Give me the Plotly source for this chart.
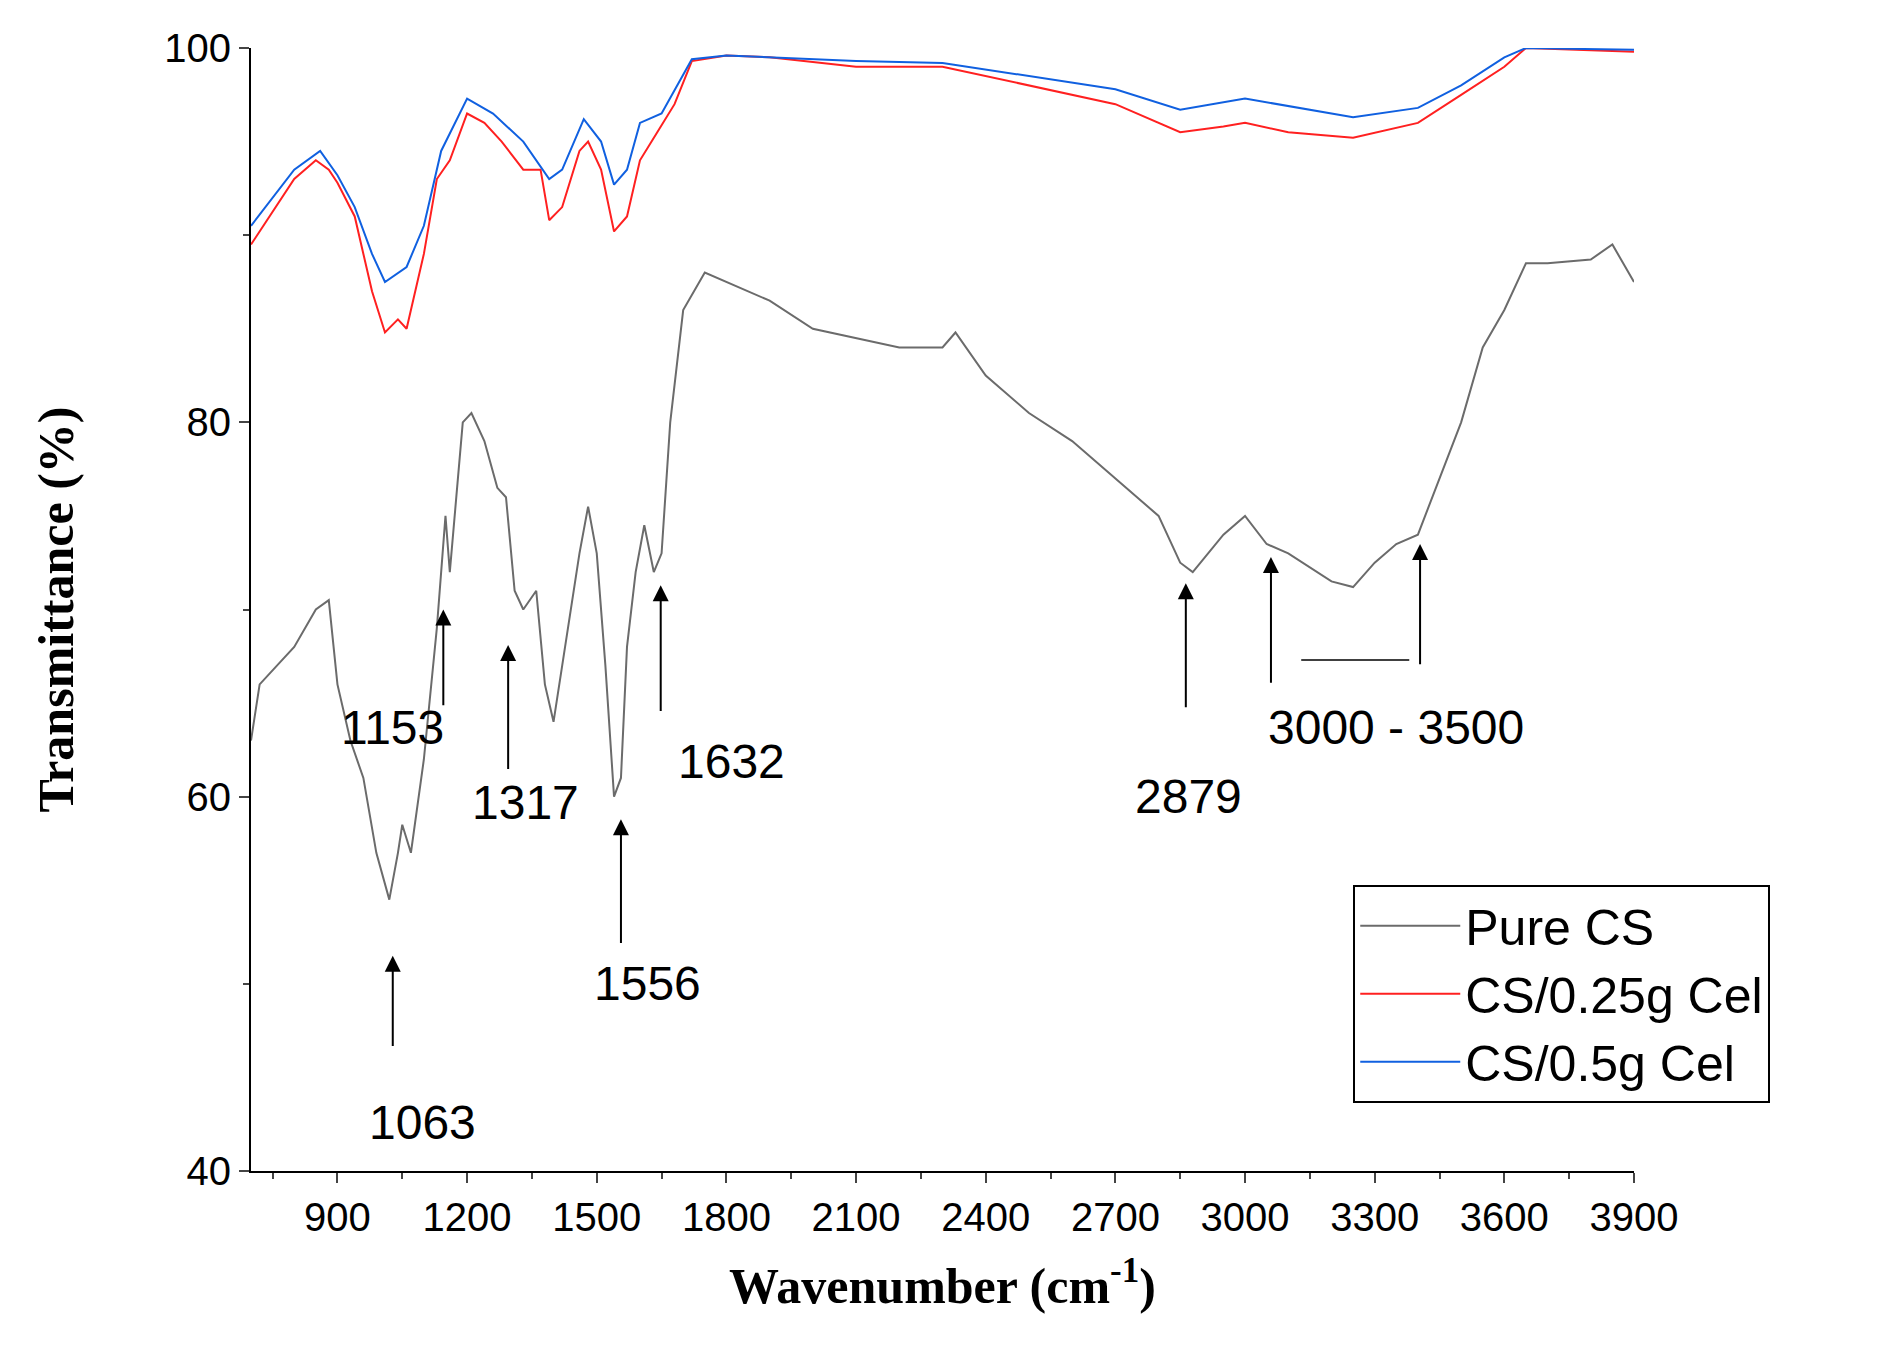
import plotly.graph_objects as go

# Pure CS
cs_x = [700, 720, 760, 800, 850, 880, 900, 930, 960, 990, 1020, 1040, 1050, 1070, 1100, 1130, 1150, 1160,
        1175, 1190, 1210, 1240, 1270, 1290, 1310, 1330, 1360, 1380, 1400, 1420, 1440, 1460, 1480, 1500,
        1520, 1540, 1556, 1570, 1590, 1610, 1632, 1650, 1670, 1700, 1750, 1800, 1900, 2000, 2100, 2200,
        2300, 2330, 2400, 2500, 2600, 2700, 2800, 2850, 2879, 2950, 3000, 3050, 3100, 3200, 3250, 3300,
        3350, 3400, 3450, 3500, 3550, 3600, 3650, 3700, 3800, 3850, 3900]
cs_y = [63, 66, 67, 68, 70, 70.5, 66, 63, 61, 57, 54.5, 57, 58.5, 57, 62, 69, 75, 72,
        76, 80, 80.5, 79, 76.5, 76, 71, 70, 71, 66, 64, 67, 70, 73, 75.5, 73,
        67, 60, 61, 68, 72, 74.5, 72, 73, 80, 86, 88, 87.5, 86.5, 85, 84.5, 84,
        84, 84.8, 82.5, 80.5, 79, 77, 75, 72.5, 72, 74, 75, 73.5, 73, 71.5, 71.2, 72.5,
        73.5, 74, 77, 80, 84, 86, 88.5, 88.5, 88.7, 89.5, 87.5]

# CS/0.25g Cel
red_x = [700, 800, 850, 880, 900, 940, 980, 1010, 1040, 1060, 1100, 1130, 1160, 1200, 1240, 1280, 1330,
         1370, 1390, 1420, 1460, 1480, 1510, 1540, 1570, 1600, 1640, 1680, 1720, 1800, 1900, 2100, 2300,
         2500, 2700, 2850, 2950, 3000, 3100, 3250, 3400, 3500, 3600, 3650, 3900]
red_y = [89.5, 93, 94, 93.5, 92.8, 91, 87, 84.8, 85.5, 85, 89, 93, 94, 96.5, 96, 95, 93.5,
         93.5, 90.8, 91.5, 94.5, 95, 93.5, 90.2, 91, 94, 95.5, 97, 99.3, 99.6, 99.5, 99, 99,
         98, 97, 95.5, 95.8, 96, 95.5, 95.2, 96, 97.5, 99, 100, 99.8]

# CS/0.5g Cel
blue_x = [700, 800, 860, 900, 940, 980, 1010, 1060, 1100, 1140, 1200, 1260, 1330, 1390, 1420, 1470,
          1510, 1540, 1570, 1600, 1650, 1720, 1800, 2100, 2300, 2500, 2700, 2850, 3000, 3250, 3400,
          3500, 3600, 3650, 3900]
blue_y = [90.5, 93.5, 94.5, 93.2, 91.5, 89, 87.5, 88.3, 90.5, 94.5, 97.3, 96.5, 95, 93, 93.5, 96.2,
          95, 92.7, 93.5, 96, 96.5, 99.4, 99.6, 99.3, 99.2, 98.5, 97.8, 96.7, 97.3, 96.3, 96.8,
          98, 99.5, 100, 99.9]

# peak labels: text, arrow x, tip y, tail y, label x, label y
peaks = [("1063", 1028, 51.5, 46.6, 1097, 42.6),
         ("1153", 1145, 70, 64.8, 1028, 63.7),
         ("1317", 1295, 68.1, 61.4, 1334, 59.7),
         ("1556", 1556, 58.8, 52.1, 1617, 50),
         ("1632", 1648, 71.3, 64.5, 1812, 61.9),
         ("2879", 2863, 71.4, 64.7, 2869, 60)]
range_arrows = [(3060, 72.8, 66), (3405, 73.5, 67)]

fig = go.Figure()
fig.add_trace(go.Scatter(x=cs_x, y=cs_y, mode="lines", name="Pure CS", line=dict(color="#6b6b6b", width=2)))
fig.add_trace(go.Scatter(x=red_x, y=red_y, mode="lines", name="CS/0.25g Cel", line=dict(color="#ff2020", width=2)))
fig.add_trace(go.Scatter(x=blue_x, y=blue_y, mode="lines", name="CS/0.5g Cel", line=dict(color="#1060e0", width=2)))

arrow = dict(showarrow=True, arrowhead=2, arrowsize=1.6, arrowwidth=2, arrowcolor="black",
             axref="x", ayref="y", text="")
for txt, ax_, tip, tail, lx, ly in peaks:
    fig.add_annotation(x=ax_, y=tip, ax=ax_, ay=tail, **arrow)
    fig.add_annotation(x=lx, y=ly, text=txt, showarrow=False, font=dict(size=48, color="black"))
for ax_, tip, tail in range_arrows:
    fig.add_annotation(x=ax_, y=tip, ax=ax_, ay=tail, **arrow)
fig.add_shape(type="line", x0=3130, x1=3380, y0=67.3, y1=67.3, line=dict(color="black", width=1.5))
fig.add_annotation(x=3349, y=63.7, text="3000 - 3500", showarrow=False, font=dict(size=48, color="black"))

fig.update_layout(
    width=1884, height=1357, plot_bgcolor="white", paper_bgcolor="white",
    margin=dict(l=243, r=258, t=40, b=194),
    font=dict(family="Liberation Sans, Arial", color="black"),
    showlegend=True,
    legend=dict(x=0.797, y=0.255, xanchor="left", yanchor="top", bordercolor="black", borderwidth=2,
                bgcolor="white", font=dict(size=50), tracegroupgap=0, itemwidth=100),
)
fig.update_xaxes(range=[700, 3900], tickvals=list(range(900, 3901, 300)), ticks="outside", ticklen=10,
                 tickwidth=2, showline=True, linecolor="black", linewidth=2, showgrid=False, zeroline=False,
                 tickfont=dict(size=40),
                 minor=dict(dtick=150, tick0=750, ticks="outside", ticklen=6, tickwidth=2),
                 title=dict(text="<b>Wavenumber (cm<sup>-1</sup>)</b>",
                            font=dict(family="Liberation Serif, Times New Roman", size=50), standoff=30))
fig.update_yaxes(range=[40, 100], tickvals=[40, 60, 80, 100], ticks="outside", ticklen=10, tickwidth=2,
                 showline=True, linecolor="black", linewidth=2, showgrid=False, zeroline=False,
                 tickfont=dict(size=40),
                 minor=dict(dtick=10, ticks="outside", ticklen=6, tickwidth=2),
                 title=dict(text="<b>Transmittance (%)</b>",
                            font=dict(family="Liberation Serif, Times New Roman", size=50), standoff=75))

fig.write_html("out.html")
